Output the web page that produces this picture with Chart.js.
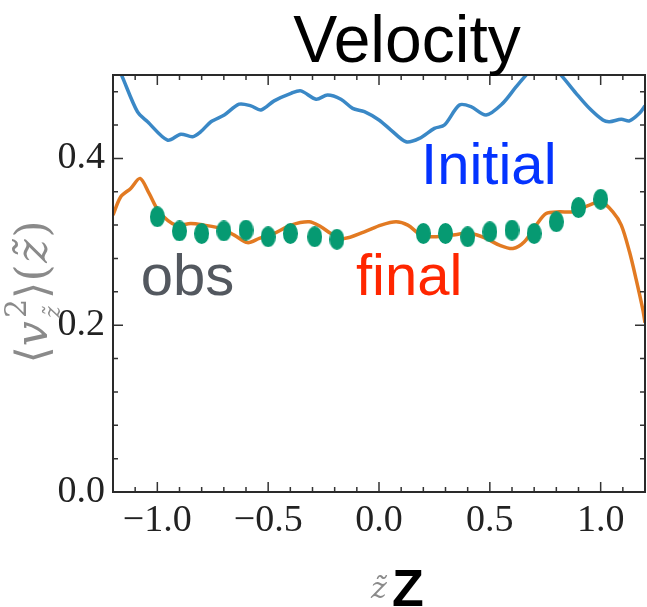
<!DOCTYPE html>
<html>
<head>
<meta charset="utf-8">
<script src="https://cdn.jsdelivr.net/npm/chart.js@4/dist/chart.umd.min.js"></script>
<style>
html, body { margin: 0; padding: 0; background: #fff; }
</style>
</head>
<body>
<canvas id="velChart" width="647" height="607"></canvas>
<script>
// ---- data ----
const initialZ = [-1.2, -1.165, -1.09, -1.044, -0.954, -0.894, -0.841, -0.804, -0.758, -0.698, -0.631, -0.578, -0.533, -0.473, -0.397, -0.352, -0.284, -0.232, -0.172, -0.119, -0.066, 0.0, 0.054, 0.122, 0.182, 0.25, 0.295, 0.363, 0.415, 0.483, 0.558, 0.619, 0.671, 0.74, 0.814, 0.889, 0.949, 1.01, 1.04, 1.093, 1.13, 1.175, 1.2];
const initialV = [0.52, 0.502, 0.456, 0.444, 0.422, 0.429, 0.426, 0.432, 0.444, 0.452, 0.465, 0.463, 0.458, 0.469, 0.478, 0.481, 0.471, 0.476, 0.471, 0.46, 0.456, 0.446, 0.434, 0.42, 0.424, 0.436, 0.44, 0.464, 0.462, 0.452, 0.466, 0.486, 0.502, 0.52, 0.502, 0.478, 0.46, 0.446, 0.444, 0.447, 0.445, 0.454, 0.463];

const finalZ = [-1.2, -1.165, -1.12, -1.078, -1.037, -0.992, -0.916, -0.849, -0.789, -0.713, -0.653, -0.593, -0.54, -0.473, -0.397, -0.315, -0.262, -0.217, -0.157, -0.066, 0.009, 0.077, 0.13, 0.19, 0.25, 0.325, 0.415, 0.483, 0.543, 0.604, 0.656, 0.709, 0.754, 0.814, 0.874, 0.949, 1.002, 1.055, 1.093, 1.13, 1.16, 1.19, 1.2];
const finalV = [0.332, 0.354, 0.364, 0.376, 0.358, 0.336, 0.32, 0.322, 0.32, 0.316, 0.308, 0.299, 0.304, 0.31, 0.32, 0.324, 0.318, 0.31, 0.304, 0.312, 0.32, 0.324, 0.32, 0.308, 0.306, 0.308, 0.31, 0.304, 0.296, 0.292, 0.3, 0.32, 0.334, 0.336, 0.336, 0.344, 0.348, 0.336, 0.32, 0.288, 0.255, 0.219, 0.203];

const obsZ = [-1.0, -0.9, -0.8, -0.7, -0.6, -0.5, -0.4, -0.29, -0.19, 0.2, 0.3, 0.4, 0.5, 0.6, 0.7, 0.8, 0.9, 1.0];
const obsV = [0.33, 0.313, 0.31, 0.313, 0.314, 0.306, 0.31, 0.306, 0.303, 0.31, 0.31, 0.306, 0.312, 0.314, 0.31, 0.324, 0.341, 0.351];

const xTickValues = [-1.0, -0.5, 0.0, 0.5, 1.0];
const xTickLabels = ["\u22121.0", "\u22120.5", "0.0", "0.5", "1.0"];
const yTickValues = [0.0, 0.2, 0.4];
const yTickLabels = ["0.0", "0.2", "0.4"];

// text labels placed in data coordinates
const annotations = [
    { text: "Initial", z: 0.19, v: 0.369, color: "#0433ff" },
    { text: "obs", z: -1.075, v: 0.236, color: "#53585f" },
    { text: "final", z: -0.104, v: 0.236, color: "#ff2600" }
];

function toPoints(xs, ys) {
    return xs.map((x, i) => ({ x: x, y: ys[i] }));
}

// tall ellipse marker like the original dots
function ellipseMarker(w, h, color) {
    const c = document.createElement("canvas");
    c.width = w; c.height = h;
    const g = c.getContext("2d");
    g.fillStyle = color;
    g.beginPath();
    g.ellipse(w / 2, h / 2, w / 2, h / 2, 0, 0, Math.PI * 2);
    g.fill();
    return c;
}

const decor = {
    id: "decor",
    afterDatasetsDraw(chart) {
        const { ctx, chartArea: a, scales } = chart;
        const xs = scales.x, ys = scales.y;
        ctx.save();

        // inward ticks on all four sides
        ctx.strokeStyle = "#333";
        ctx.lineWidth = 1.5;
        ctx.beginPath();
        for (let i = -11; i <= 11; i++) {
            const px = xs.getPixelForValue(i / 10);
            const len = (i % 5 === 0) ? 10 : 5;
            ctx.moveTo(px, a.bottom); ctx.lineTo(px, a.bottom - len);
            ctx.moveTo(px, a.top); ctx.lineTo(px, a.top + len);
        }
        for (let i = 1; i <= 12; i++) {
            const py = ys.getPixelForValue(i * 0.04);
            const len = (i % 5 === 0) ? 10 : 5;
            ctx.moveTo(a.left, py); ctx.lineTo(a.left + len, py);
            ctx.moveTo(a.right, py); ctx.lineTo(a.right - len, py);
        }
        ctx.stroke();

        // frame
        ctx.strokeStyle = "#2a2a2a";
        ctx.lineWidth = 2;
        ctx.strokeRect(a.left, a.top, a.right - a.left, a.bottom - a.top);

        // annotations
        ctx.font = "58px 'Liberation Sans', Arial, sans-serif";
        ctx.textBaseline = "alphabetic";
        ctx.textAlign = "left";
        annotations.forEach(t => {
            ctx.fillStyle = t.color;
            ctx.fillText(t.text, xs.getPixelForValue(t.z), ys.getPixelForValue(t.v));
        });
        ctx.restore();
    },
    afterDraw(chart) {
        const { ctx } = chart;
        ctx.save();

        // title
        ctx.fillStyle = "#000";
        ctx.font = "66px 'Liberation Sans', Arial, sans-serif";
        ctx.textAlign = "center";
        ctx.textBaseline = "alphabetic";
        ctx.fillText("Velocity", 407, 62);

        // x axis label: small serif z-tilde plus bold Z
        ctx.textAlign = "left";
        ctx.fillStyle = "#8a8a8a";
        ctx.font = "italic 30px 'DejaVu Serif', serif";
        ctx.fillText("z\u0303", 371, 598);
        ctx.fillStyle = "#000";
        ctx.font = "bold 52px 'Liberation Sans', Arial, sans-serif";
        ctx.fillText("Z", 392, 606);

        // y axis label <v^2_z>(z), rotated
        ctx.translate(47, 292);
        ctx.rotate(-Math.PI / 2);
        ctx.fillStyle = "#8a8a8a";
        const big = "28px 'DejaVu Serif', serif";
        const bigIt = "italic 28px 'DejaVu Serif', serif";
        const parts = [
            { s: "\u27e8", f: big, dy: 0 },
            { s: "v", f: bigIt, dy: 0, gap: 2 },
            { s: "2", f: "19px 'DejaVu Serif', serif", dy: -13, keep: true },
            { s: "z\u0303", f: "italic 14px 'DejaVu Serif', serif", dy: 8, gap: 2 },
            { s: "\u27e9", f: big, dy: 0 },
            { s: "(", f: big, dy: 0, gap: 1 },
            { s: "z\u0303", f: bigIt, dy: 0, gap: 1 },
            { s: ")", f: big, dy: 0 }
        ];
        // measure total width (superscript and subscript stack)
        let widths = [];
        parts.forEach(p => { ctx.font = p.f; widths.push(ctx.measureText(p.s).width + (p.gap || 0)); });
        let total = 0;
        for (let i = 0; i < parts.length; i++) {
            if (parts[i].keep) { total += Math.max(widths[i], widths[i + 1]); i++; }
            else total += widths[i];
        }
        const k = 143 / total;
        ctx.scale(k, k);
        let x0 = -total / 2;
        for (let i = 0; i < parts.length; i++) {
            const p = parts[i];
            ctx.font = p.f;
            ctx.fillText(p.s, x0, p.dy);
            if (p.keep) {
                const q = parts[i + 1];
                ctx.font = q.f;
                ctx.fillText(q.s, x0, q.dy);
                x0 += Math.max(widths[i], widths[i + 1]);
                i++;
            } else {
                x0 += widths[i];
            }
        }
        ctx.restore();
    }
};

const tickFont = { family: "'Liberation Serif', 'DejaVu Serif', serif", size: 38 };

const velChart = new Chart(document.getElementById("velChart"), {
    type: "line",
    data: {
        datasets: [
            {
                label: "obs",
                data: toPoints(obsZ, obsV),
                showLine: false,
                pointStyle: ellipseMarker(15, 21, "#069a72"),
                pointRadius: 10,
                order: 0
            },
            {
                label: "final",
                data: toPoints(finalZ, finalV),
                borderColor: "#e27a22",
                borderWidth: 3.5,
                pointRadius: 0,
                tension: 0.3,
                order: 1
            },
            {
                label: "Initial",
                data: toPoints(initialZ, initialV),
                borderColor: "#3a88c6",
                borderWidth: 3.5,
                pointRadius: 0,
                tension: 0.3,
                order: 2
            }
        ]
    },
    options: {
        responsive: false,
        animation: false,
        devicePixelRatio: 1,
        layout: { autoPadding: false, padding: { top: 75, right: 2, left: 0, bottom: 0 } },
        plugins: {
            legend: { display: false },
            tooltip: { enabled: false }
        },
        scales: {
            x: {
                type: "linear",
                min: -1.2,
                max: 1.2,
                grid: { display: false, drawTicks: false },
                border: { display: false },
                afterBuildTicks: s => { s.ticks = xTickValues.map(v => ({ value: v })); },
                afterFit: s => { s.height = 115; s.paddingLeft = 0; s.paddingRight = 0; },
                ticks: {
                    font: tickFont,
                    color: "#222",
                    padding: 6,
                    maxRotation: 0,
                    callback: (val, i) => xTickLabels[i]
                }
            },
            y: {
                min: 0,
                max: 0.5,
                grid: { display: false, drawTicks: false },
                border: { display: false },
                afterBuildTicks: s => { s.ticks = yTickValues.map(v => ({ value: v })); },
                afterFit: s => { s.width = 113; s.paddingTop = 0; s.paddingBottom = 0; },
                ticks: {
                    font: tickFont,
                    color: "#222",
                    padding: 8,
                    callback: (val, i) => yTickLabels[i]
                }
            }
        }
    },
    plugins: [decor]
});
</script>
</body>
</html>
